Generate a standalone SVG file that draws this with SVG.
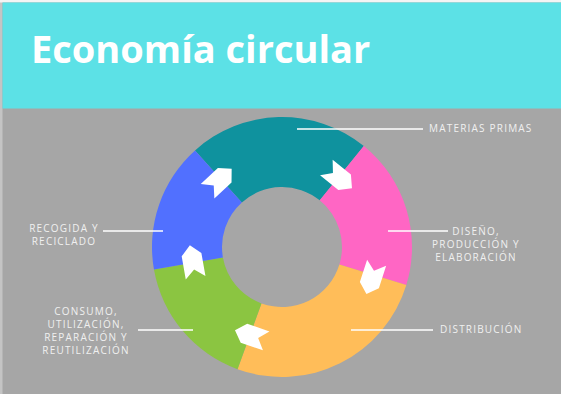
<svg xmlns="http://www.w3.org/2000/svg" width="561" height="394" viewBox="0 0 561 394">
<style>
.lbl{font-family:"Open Sans","DejaVu Sans",sans-serif;font-size:10px;letter-spacing:1.2px;fill:#F0F0F0}
.lead{stroke:#FFFFFF;stroke-width:1.5;fill:none}
.arr{fill:#FFFFFF}
</style>
<defs>
<path id="chev" d="M18,0 L8.5,-10 L-15,-10 L-6.5,0 L-15,10 L8.5,10 Z"/>
</defs>
<rect x="0" y="0" width="561" height="394" fill="#A6A6A6"/>
<rect x="0" y="0" width="2.5" height="394" fill="#C4C4C4"/>
<rect x="0" y="0" width="561" height="2.5" fill="#F4F4F4"/>
<rect x="2.5" y="2.5" width="558.5" height="106" fill="#5CE1E6"/>
<text x="31" y="63" font-family="'Open Sans','DejaVu Sans',sans-serif" font-weight="bold" font-size="38" fill="#FFFFFF">Economía circular</text>
<g id="ring">
<path id="seg-materias" d="M195.01,150.39 A130,130 0 0 1 363.81,145.97 L319.76,200.37 A60,60 0 0 0 241.85,202.41 Z" fill="#0F929E"/>
<path id="seg-diseno" d="M363.81,145.97 A130,130 0 0 1 406.32,285.01 L339.38,264.54 A60,60 0 0 0 319.76,200.37 Z" fill="#FF66C4"/>
<path id="seg-distribucion" d="M406.32,285.01 A130,130 0 0 1 237.54,369.16 L261.48,303.38 A60,60 0 0 0 339.38,264.54 Z" fill="#FFBD59"/>
<path id="seg-consumo" d="M237.54,369.16 A130,130 0 0 1 153.97,269.57 L222.91,257.42 A60,60 0 0 0 261.48,303.38 Z" fill="#8BC541"/>
<path id="seg-recogida" d="M153.97,269.57 A130,130 0 0 1 195.01,150.39 L241.85,202.41 A60,60 0 0 0 222.91,257.42 Z" fill="#5170FF"/>
</g>
<g id="connectors">
<use href="#chev" class="arr" transform="translate(218.5,181) rotate(-43)"/>
<use href="#chev" class="arr" transform="translate(338,177) rotate(39)"/>
<use href="#chev" class="arr" transform="translate(372,277) rotate(108)"/>
<use href="#chev" class="arr" transform="translate(252,336) rotate(199)"/>
<use href="#chev" class="arr" transform="translate(193,263) rotate(260)"/>
<line class="lead" x1="297" y1="129" x2="423" y2="129"/>
<line class="lead" x1="388" y1="231" x2="448" y2="231"/>
<line class="lead" x1="351" y1="330" x2="433" y2="330"/>
<line class="lead" x1="103" y1="231" x2="163" y2="231"/>
<line class="lead" x1="138" y1="330" x2="193" y2="330"/>
</g>
<g id="label-materias"><text class="lbl" x="429" y="132">MATERIAS PRIMAS</text></g>
<g id="label-diseno">
<text class="lbl" x="476" y="235" text-anchor="middle">DISEÑO,</text>
<text class="lbl" x="476" y="248" text-anchor="middle">PRODUCCIÓN Y</text>
<text class="lbl" x="476" y="261" text-anchor="middle">ELABORACIÓN</text>
</g>
<g id="label-distribucion"><text class="lbl" x="440" y="333">DISTRIBUCIÓN</text></g>
<g id="label-recogida">
<text class="lbl" x="64" y="232" text-anchor="middle">RECOGIDA Y</text>
<text class="lbl" x="64" y="245" text-anchor="middle">RECICLADO</text>
</g>
<g id="label-consumo">
<text class="lbl" x="86" y="315" text-anchor="middle">CONSUMO,</text>
<text class="lbl" x="86" y="328" text-anchor="middle">UTILIZACIÓN,</text>
<text class="lbl" x="86" y="341" text-anchor="middle">REPARACIÓN Y</text>
<text class="lbl" x="86" y="354" text-anchor="middle">REUTILIZACIÓN</text>
</g>
</svg>
